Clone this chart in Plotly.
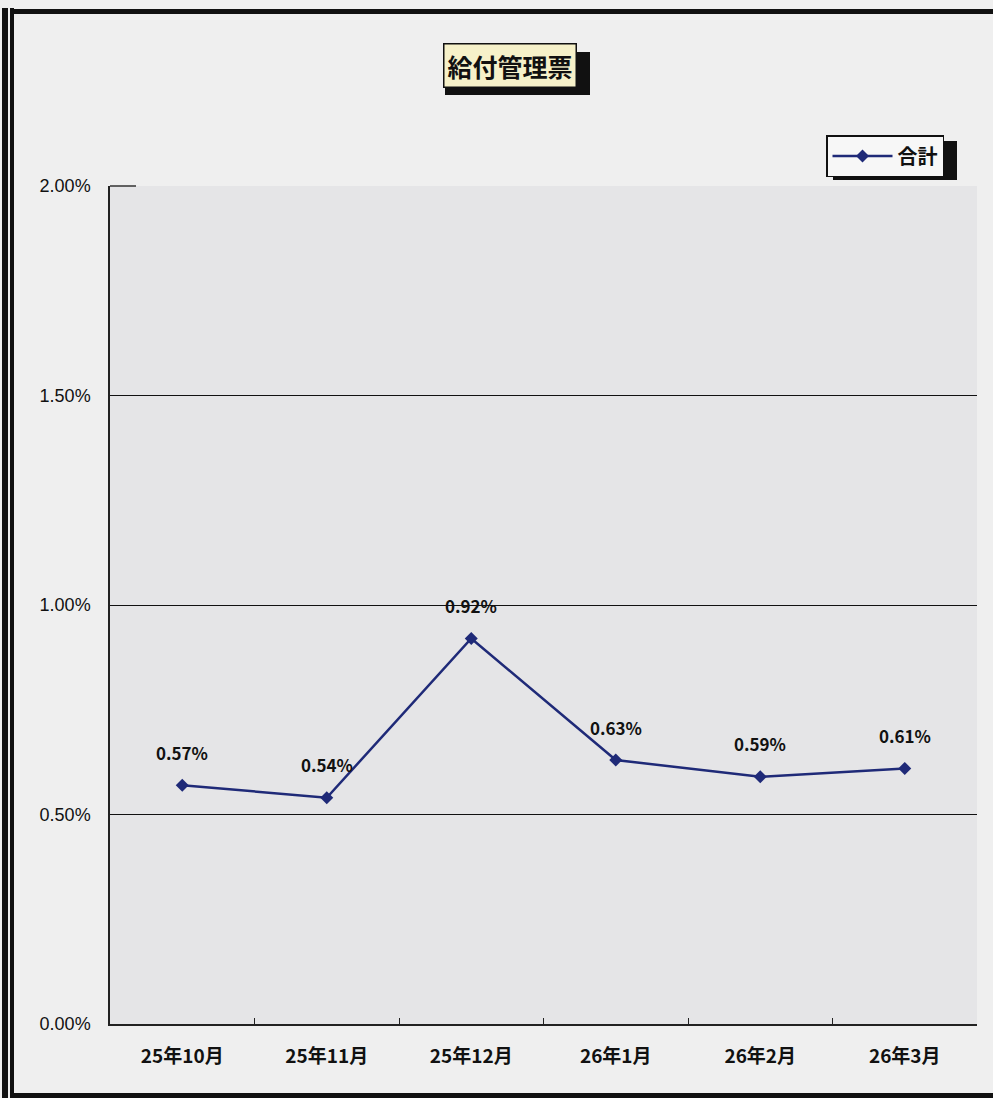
import plotly.graph_objects as go

categories = ["25年10月", "25年11月", "25年12月", "26年1月", "26年2月", "26年3月"]
values = [0.0057, 0.0054, 0.0092, 0.0063, 0.0059, 0.0061]
label_text = ["0.57%", "0.54%", "0.92%", "0.63%", "0.59%", "0.61%"]
ytick_vals = [0, 0.005, 0.01, 0.015, 0.02]
ytick_text = ["0.00%", "0.50%", "1.00%", "1.50%", "2.00%"]

W, H = 993, 1098
L, R, T, B = 110, 16, 186, 74
pw, ph = W - L - R, H - T - B

def px(x):
    return (x - L) / pw

def py(y):
    return (H - B - y) / ph

FONT = "Noto Sans CJK JP"
NAVY = "#1f2a78"

fig = go.Figure()
fig.add_trace(go.Scatter(
    x=categories, y=values, mode="lines+markers", name="<b>合計</b>",
    line=dict(color=NAVY, width=2.5),
    marker=dict(symbol="diamond", size=10, color=NAVY),
))

annotations = []
for c, v, t in zip(categories, values, label_text):
    annotations.append(dict(x=c, y=v, text="<b>" + t + "</b>", showarrow=False,
                            yshift=33, font=dict(family=FONT, size=17, color="#111")))

# title
annotations.append(dict(xref="paper", yref="paper", x=px(510), y=py(66),
                        xanchor="center", yanchor="middle",
                        text="<b>給付管理票</b>", showarrow=False,
                        font=dict(family=FONT, size=25, color="#111"),
                        bgcolor="#f6f1c9", bordercolor="#111", borderwidth=1.5,
                        borderpad=3))

shapes = []
# title shadow
shapes.append(dict(type="rect", xref="paper", yref="paper",
                   x0=px(445), x1=px(590), y0=py(95), y1=py(52),
                   fillcolor="#111", line=dict(width=0), layer="below"))
# legend shadow
shapes.append(dict(type="rect", xref="paper", yref="paper",
                   x0=px(833), x1=px(957), y0=py(180), y1=py(141),
                   fillcolor="#111", line=dict(width=0), layer="below"))
# outer frame
for x0, x1 in [(2, 8), (10, 14)]:
    shapes.append(dict(type="rect", xref="paper", yref="paper",
                       x0=px(x0), x1=px(x1), y0=py(1098), y1=py(8),
                       fillcolor="#111", line=dict(width=0)))
shapes.append(dict(type="rect", xref="paper", yref="paper",
                   x0=px(10), x1=px(993), y0=py(14), y1=py(9),
                   fillcolor="#111", line=dict(width=0)))
shapes.append(dict(type="rect", xref="paper", yref="paper",
                   x0=px(10), x1=px(993), y0=py(1098), y1=py(1093),
                   fillcolor="#111", line=dict(width=0)))
# top border of plot area
shapes.append(dict(type="line", xref="paper", yref="paper",
                   x0=0, x1=0.03, y0=1, y1=1, line=dict(color="#333", width=1.5)))

fig.update_layout(
    width=W, height=H,
    margin=dict(l=L, r=R, t=T, b=B),
    paper_bgcolor="#efefef",
    plot_bgcolor="#e5e5e7",
    showlegend=True,
    legend=dict(x=px(826), y=py(135), xanchor="left", yanchor="top",
                bgcolor="#f7f7f7", bordercolor="#111", borderwidth=1.5,
                font=dict(family=FONT, size=20, color="#111"),
                itemwidth=60),
    xaxis=dict(type="category", range=[-0.5, 5.5], showgrid=False, showline=True,
               linecolor="#222", linewidth=1.5, ticks="inside", ticklen=6,
               tickcolor="#222", tickson="boundaries", ticklabelstandoff=14,
               tickfont=dict(family=FONT, size=19, color="#111"),
               tickprefix="<b>", ticksuffix="</b>"),
    yaxis=dict(range=[0, 0.02], tickvals=ytick_vals, ticktext=ytick_text,
               showgrid=True, gridcolor="#111", gridwidth=1.2,
               showline=True, linecolor="#222", linewidth=1.5,
               zeroline=False, ticks="", ticklabelstandoff=14,
               tickfont=dict(family="Liberation Sans", size=18, color="#111")),
    annotations=annotations, shapes=shapes,
    font=dict(family=FONT),
)

fig.write_html("out.html", config={"displayModeBar": False},
               post_script="document.body.style.margin='0';document.body.style.overflow='hidden';")
